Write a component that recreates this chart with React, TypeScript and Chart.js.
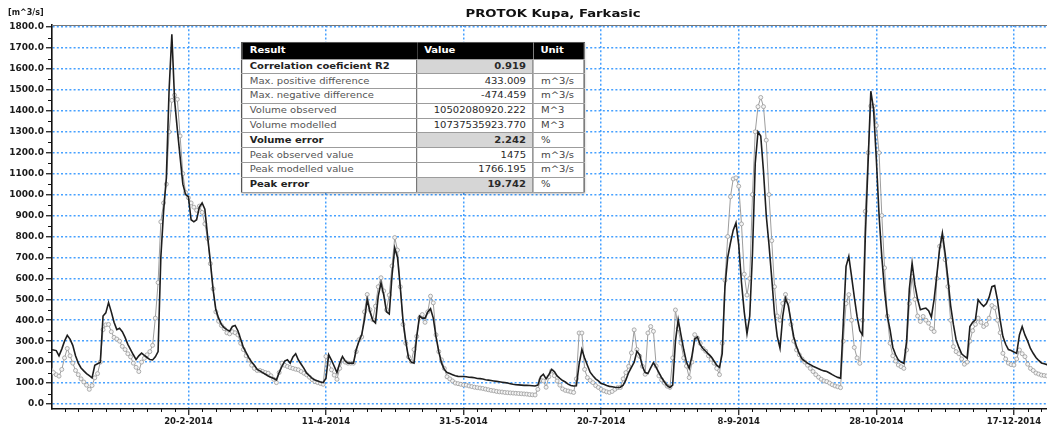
import { useEffect, useRef } from "react";
import { Chart, registerables } from "chart.js";

Chart.register(...registerables);

// ---- DATA (daily values, day 0 = 1-1-2014) ----
const modelled: number[] = [
  260, 258, 255, 230, 262, 300, 328, 310, 280, 230,
  195, 172, 158, 145, 135, 125, 185, 192, 198, 420,
  435, 484, 440, 390, 355, 362, 345, 318, 285, 260,
  235, 212, 230, 243, 232, 222, 212, 210, 225, 250,
  700, 920, 1080, 1500, 1766, 1450, 1310, 1180, 1050, 1000,
  990, 880, 870, 880, 940, 960, 930, 800, 680, 545,
  450, 410, 380, 365, 355, 348, 370, 375, 350, 310,
  270, 245, 220, 200, 185, 165, 158, 150, 142, 134,
  128, 122, 115, 150, 179, 205, 211, 195, 225, 240,
  210, 190, 170, 147, 135, 122, 115, 110, 105, 102,
  123, 235, 210, 180, 150, 195, 227, 205, 195, 195,
  195, 260, 300, 331, 403, 499, 440, 400, 387, 515,
  579, 520, 440, 430, 611, 745, 700, 560, 400, 300,
  220, 200, 195, 323, 420, 410, 410, 440, 455, 410,
  320, 250, 195, 165, 150, 145, 140, 135, 132, 131,
  131, 130, 128, 127, 125, 122, 121, 119, 116, 114,
  112, 110, 108, 106, 104, 102, 100, 97, 94, 92,
  91, 90, 89, 89, 88, 87, 86, 90, 130, 142,
  120, 140, 165, 155, 134, 122, 112, 105, 95, 88,
  86, 87, 190, 260, 220, 185, 152, 135, 120, 110,
  98, 94, 88, 84, 82, 80, 79, 80, 90, 115,
  150, 175, 200, 252, 235, 180, 150, 145, 172, 197,
  175, 150, 125, 105, 88, 79, 90, 300, 402, 330,
  260, 200, 170, 230, 310, 320, 283, 265, 252, 238,
  225, 205, 185, 175, 240, 560, 700, 770, 830, 865,
  760, 580, 440, 335, 420, 720, 1150, 1300, 1280, 1110,
  900, 760, 600, 430, 322, 266, 420, 505, 470, 395,
  320, 274, 240, 215, 205, 195, 188, 180, 174, 168,
  162, 158, 155, 148, 140, 133, 127, 123, 386, 657,
  705, 609, 510, 418, 350, 330, 800, 1150, 1494, 1407,
  1170, 900, 700, 540, 420, 354, 270, 235, 210, 200,
  194, 300, 550, 673, 570, 500, 450, 455, 458, 445,
  415, 500, 618, 740, 817, 720, 600, 470, 380, 306,
  270, 240, 228, 218, 370, 390, 402, 498, 480, 466,
  480, 510, 560, 565, 498, 400, 322, 285, 260, 255,
  248, 242, 330, 370, 330, 300, 265, 242, 222, 208,
  196, 192, 188, 185, 182,
];

const observed: number[] = [
  165, 150, 140, 133, 165, 220, 265, 230, 195, 160,
  140, 120, 105, 90, 70, 88, 125, 145, 200, 355,
  378, 380, 345, 318, 310, 300, 275, 260, 240, 225,
  195, 175, 155, 200, 218, 235, 250, 280, 410, 580,
  870, 960, 1050, 1300, 1450, 1475, 1455, 1280, 1100, 1010,
  985, 960, 940, 925, 945, 915, 860, 790, 670, 550,
  440, 395, 375, 360, 340, 335, 345, 340, 330, 290,
  260, 230, 210, 185, 170, 160, 160, 155, 150, 147,
  135, 118, 102, 150, 195, 185, 179, 174, 170, 166,
  163, 155, 147, 139, 128, 116, 107, 102, 98, 94,
  227, 195, 163, 138, 118, 170, 211, 200, 195, 195,
  195, 250, 307, 320, 440, 523, 450, 403, 467, 560,
  603, 540, 450, 520, 659, 795, 735, 560, 380, 290,
  225, 203, 260, 323, 410, 427, 390, 440, 515, 483,
  330, 250, 211, 170, 130, 120, 110, 100, 97, 94,
  91, 90, 86, 83, 80, 78, 76, 74, 71, 68,
  65, 63, 60, 58, 57, 55, 54, 53, 52, 51,
  50, 49, 48, 47, 45, 44, 43, 70, 115, 110,
  80, 130, 158, 135, 110, 90, 72, 65, 62, 58,
  55, 120, 339, 339, 165, 126, 112, 102, 88, 79,
  70, 63, 58, 55, 60, 70, 78, 79, 120, 150,
  180, 244, 354, 260, 228, 180, 142, 339, 370, 347,
  181, 134, 115, 100, 85, 79, 220, 449, 360, 291,
  220, 181, 126, 200, 331, 315, 290, 265, 252, 230,
  213, 195, 170, 140, 290, 591, 800, 990, 1075, 1080,
  1040, 860, 620, 520, 600, 1000, 1300, 1420, 1464, 1420,
  1260, 1000, 780, 560, 420, 400, 480, 523, 490, 380,
  300, 258, 235, 215, 200, 185, 170, 155, 140, 128,
  118, 110, 107, 100, 92, 86, 82, 78, 300, 480,
  522, 400, 270, 220, 194, 400, 920, 1200, 1423, 1423,
  1330, 1200, 900, 650, 420, 290, 230, 205, 186, 178,
  170, 258, 480, 609, 500, 420, 394, 418, 400, 386,
  360, 346, 600, 753, 793, 689, 561, 400, 274, 250,
  240, 215, 190, 200, 300, 350, 380, 410, 390, 370,
  380, 410, 470, 460, 400, 340, 242, 215, 195, 188,
  186, 215, 258, 240, 226, 190, 170, 160, 148, 143,
  138, 136, 134, 132, 130,
];

const tickDays: number[] = [50, 100, 150, 200, 250, 300, 350];
const tickLabels: string[] = [
  "20-2-2014", "11-4-2014", "31-5-2014", "20-7-2014",
  "8-9-2014", "28-10-2014", "17-12-2014",
];
const yTicks: number[] = [0, 100, 200, 300, 400, 500, 600, 700, 800, 900, 1000, 1100, 1200, 1300, 1400, 1500, 1600, 1700, 1800];

const resultLabels: string[] = [
  "Correlation coeficient R2", "Max. positive difference", "Max. negative difference",
  "Volume observed", "Volume modelled", "Volume error",
  "Peak observed  value", "Peak modelled  value", "Peak error",
];
const resultValues: string[] = [
  "0.919", "433.009", "-474.459", "10502080920.222", "10737535923.770",
  "2.242", "1475", "1766.195", "19.742",
];
const resultUnits: string[] = ["", "m^3/s", "m^3/s", "M^3", "M^3", "%", "m^3/s", "m^3/s", "%"];
const resultBold: boolean[] = [true, false, false, false, false, true, false, false, true];

const GRID = "rgba(60,155,255,0.95)";

const minorTicksPlugin = {
  id: "minorTicks",
  afterDraw(chart: any) {
    const { ctx, chartArea, scales } = chart;
    const x = scales.x;
    const y = scales.y;
    ctx.save();
    ctx.strokeStyle = "#111";
    ctx.lineWidth = 1;
    ctx.beginPath();
    for (let d = 5; d < 366; d += 5) {
      if (d % 50 === 0) continue;
      const px = Math.round(x.getPixelForValue(d)) + 0.5;
      if (px < chartArea.left || px > chartArea.right) continue;
      ctx.moveTo(px, chartArea.bottom);
      ctx.lineTo(px, chartArea.bottom + 3);
    }
    for (let v = 50; v < 1800; v += 100) {
      const py = Math.round(y.getPixelForValue(v)) + 0.5;
      ctx.moveTo(chartArea.left - 4, py);
      ctx.lineTo(chartArea.left, py);
    }
    ctx.stroke();
    ctx.strokeStyle = "#777";
    ctx.lineWidth = 1.2;
    ctx.beginPath();
    ctx.moveTo(chartArea.left, chartArea.top + 0.5);
    ctx.lineTo(chartArea.right, chartArea.top + 0.5);
    ctx.stroke();
    ctx.restore();
  },
};

function ResultTable() {
  const cellBase: any = {
    padding: 0,
    height: 13.8,
    lineHeight: "13px",
    borderBottom: "1px solid #9c9c9c",
    whiteSpace: "nowrap",
    overflow: "hidden",
  };
  return (
    <div
      style={{
        position: "absolute",
        left: 241,
        top: 42,
        width: 274,
        transform: "scaleX(1.25)",
        transformOrigin: "left top",
        fontFamily: "'DejaVu Sans', sans-serif",
        fontSize: 8,
        boxShadow: "1px 1px 2px rgba(0,0,0,0.25)",
      }}
    >
      <table
        style={{
          borderCollapse: "collapse",
          tableLayout: "fixed",
          width: 274,
          background: "#fff",
          border: "1px solid #555",
        }}
      >
        <colgroup>
          <col style={{ width: 140 }} />
          <col style={{ width: 93 }} />
          <col style={{ width: 41 }} />
        </colgroup>
        <tbody>
          <tr style={{ background: "#000", color: "#fff", fontWeight: "bold" }}>
            <td style={{ ...cellBase, height: 15.5, paddingLeft: 6 }}>Result</td>
            <td style={{ ...cellBase, height: 15.5, paddingLeft: 6 }}>Value</td>
            <td style={{ ...cellBase, height: 15.5, paddingLeft: 6 }}>Unit</td>
          </tr>
          {resultLabels.map((label, i) => (
            <tr key={label} style={{ fontWeight: resultBold[i] ? "bold" : "normal" }}>
              <td
                style={{
                  ...cellBase,
                  paddingLeft: 6,
                  color: resultBold[i] ? "#222" : "#555",
                  borderRight: "1px solid #777",
                }}
              >
                {label}
              </td>
              <td
                style={{
                  ...cellBase,
                  textAlign: "right",
                  paddingRight: 5,
                  color: "#2a2a2a",
                  background: resultBold[i] ? "#d6d6d6" : "#fff",
                  borderRight: "1px solid #777",
                }}
              >
                {resultValues[i]}
              </td>
              <td style={{ ...cellBase, paddingLeft: 6, color: "#444", fontWeight: "normal" }}>
                {resultUnits[i]}
              </td>
            </tr>
          ))}
        </tbody>
      </table>
    </div>
  );
}

export default function App() {
  const canvasRef = useRef<HTMLCanvasElement | null>(null);

  useEffect(() => {
    const canvas = canvasRef.current;
    if (!canvas) return;
    const chart = new Chart(canvas, {
      type: "line",
      data: {
        datasets: [
          {
            label: "Modelled",
            data: modelled.map((v, i) => ({ x: i, y: v })),
            borderColor: "#1e1e1e",
            borderWidth: 1.6,
            pointRadius: 0,
            tension: 0,
            order: 0,
          },
          {
            label: "Observed",
            data: observed.map((v, i) => ({ x: i, y: v })),
            borderColor: "#9d9d9d",
            borderWidth: 1,
            pointRadius: 2,
            pointBorderWidth: 0.8,
            pointBorderColor: "#9a9a9a",
            pointBackgroundColor: "#f4f4f4",
            tension: 0,
            order: 1,
          },
        ],
      },
      options: {
        animation: false,
        responsive: false,
        maintainAspectRatio: false,
        layout: { padding: { top: 25, left: 0, right: 2, bottom: 0 } },
        plugins: {
          legend: { display: false },
          tooltip: { enabled: false },
          title: { display: false },
        },
        scales: {
          x: {
            type: "linear",
            min: 0.45,
            max: 365,
            afterBuildTicks: (s: any) => {
              s.ticks = tickDays.map((v) => ({ value: v }));
            },
            afterFit: (s: any) => {
              s.height = 17;
            },
            ticks: {
              autoSkip: false,
              maxRotation: 0,
              padding: 2,
              color: "#1b1b1b",
              font: { family: "'DejaVu Sans', sans-serif", weight: "bold", size: 8.5 },
              callback: (v: any) => {
                const idx = tickDays.indexOf(Number(v));
                return idx >= 0 ? tickLabels[idx] : "";
              },
            },
            grid: {
              color: GRID,
              lineWidth: 1.5,
              tickLength: 6,
              tickColor: "#111",
              tickWidth: 1.2,
              tickBorderDash: [],
            },
            border: { display: true, color: "#111", width: 1.6, dash: [2, 2.2] },
          },
          y: {
            type: "linear",
            min: -24,
            max: 1810,
            afterBuildTicks: (s: any) => {
              s.ticks = yTicks.map((v) => ({ value: v }));
            },
            afterFit: (s: any) => {
              s.width = 52;
            },
            ticks: {
              padding: 2,
              color: "#1b1b1b",
              font: { family: "'DejaVu Sans', sans-serif", weight: "bold", size: 9 },
              callback: (v: any) => Number(v).toFixed(1),
            },
            grid: {
              color: GRID,
              lineWidth: 1.5,
              tickLength: 6,
              tickColor: "#111",
              tickWidth: 1.2,
              tickBorderDash: [],
            },
            border: { display: true, color: "#111", width: 1.6, dash: [2, 2.2] },
          },
        },
      } as any,
      plugins: [minorTicksPlugin],
    });
    return () => chart.destroy();
  }, []);

  return (
    <div
      style={{
        position: "fixed",
        left: 0,
        top: 0,
        width: 1047,
        height: 426,
        overflow: "hidden",
        background: "#fff",
      }}
    >
      <canvas
        ref={canvasRef}
        width={1060}
        height={426}
        style={{ position: "absolute", left: 0, top: 0, display: "block" }}
      />
      <div
        style={{
          position: "absolute",
          left: 8,
          top: 8,
          fontFamily: "'DejaVu Sans', sans-serif",
          fontWeight: "bold",
          fontSize: 8,
          color: "#1b1b1b",
          whiteSpace: "nowrap",
        }}
      >
        [m^3/s]
      </div>
      <div
        style={{
          position: "absolute",
          left: 453,
          top: 7,
          width: 200,
          textAlign: "center",
          fontFamily: "'DejaVu Sans', sans-serif",
          fontWeight: "bold",
          fontSize: 11,
          lineHeight: "14px",
          color: "#111",
          whiteSpace: "nowrap",
          transform: "scaleX(1.2)",
          transformOrigin: "center top",
        }}
      >
        PROTOK Kupa, Farkasic
      </div>
      <ResultTable />
    </div>
  );
}
